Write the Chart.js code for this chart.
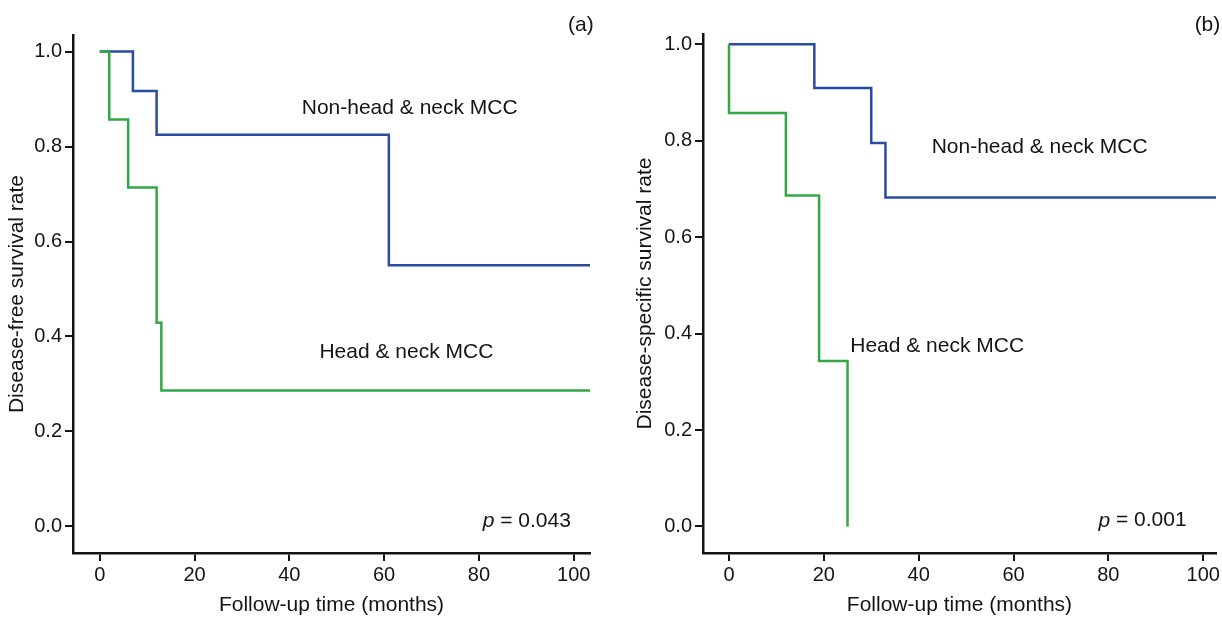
<!DOCTYPE html>
<html>
<head>
<meta charset="utf-8">
<title>Kaplan-Meier survival, head & neck vs non-head & neck MCC</title>
<script src="https://cdn.jsdelivr.net/npm/chart.js@4.4.1/dist/chart.umd.min.js"></script>
<style>
    html, body { margin: 0; padding: 0; background: #fff; }
    #wrap { position: relative; width: 1222px; height: 619px; }
    canvas { position: absolute; top: 0; }
    #panelA { left: 0; }
    #panelB { left: 610px; }
</style>
</head>
<body>
<div id="wrap">
    <canvas id="panelA" width="610" height="619"></canvas>
    <canvas id="panelB" width="612" height="619"></canvas>
</div>
<script>
// Tick values shared by both panels
const xTicks = [0, 20, 40, 60, 80, 100];
const yTicks = [0, 0.2, 0.4, 0.6, 0.8, 1.0];

// Panel (a): disease-free survival (event times in months, survival after event)
const dfsNonHnTime = [0, 7, 12, 61, 104];
const dfsNonHnRate = [1.0, 0.917, 0.825, 0.550, 0.550];
const dfsHnTime = [0, 2, 6, 12, 13, 104];
const dfsHnRate = [1.0, 0.857, 0.714, 0.429, 0.286, 0.286];

// Panel (b): disease-specific survival
const dssNonHnTime = [0, 18, 30, 33, 104];
const dssNonHnRate = [1.0, 0.909, 0.795, 0.682, 0.682];
const dssHnTime = [0, 0, 12, 19, 25];
const dssHnRate = [1.0, 0.857, 0.686, 0.343, 0.0];

const FONT = '"Liberation Sans", Arial, Helvetica, sans-serif';
const INK = '#141414';
const BLUE = '#2b4c9e';
const GREEN = '#33a646';

// Turn time/rate arrays into {x, y} points
function toPoints(times, rates) {
    return times.map((t, i) => ({ x: t, y: rates[i] }));
}

// Text labels drawn at data coordinates
const annotationPlugin = {
    id: 'kmLabels',
    afterDraw(chart, args, opts) {
        const { ctx } = chart;
        const xs = chart.scales.x;
        const ys = chart.scales.y;
        ctx.save();
        ctx.fillStyle = INK;
        ctx.textBaseline = 'middle';
        (opts.items || []).forEach(item => {
            const px = xs.getPixelForValue(item.x);
            const py = ys.getPixelForValue(item.y);
            ctx.font = '21px ' + FONT;
            if (item.pValue) {
                // italic p followed by " = value", right aligned
                const rest = ' = ' + item.pValue;
                ctx.textAlign = 'right';
                ctx.fillText(rest, px, py);
                const w = ctx.measureText(rest).width;
                ctx.font = 'italic 21px ' + FONT;
                ctx.fillText('p', px - w, py);
            } else {
                ctx.textAlign = item.align || 'center';
                ctx.fillText(item.text, px, py);
            }
        });
        ctx.restore();
    }
};

function makePanel(canvasId, cfg) {
    const ctx = document.getElementById(canvasId).getContext('2d');
    return new Chart(ctx, {
        type: 'line',
        data: {
            datasets: [
                {
                    label: 'Non-head & neck MCC',
                    data: toPoints(cfg.blueTime, cfg.blueRate),
                    borderColor: BLUE,
                    borderWidth: 2.5,
                    stepped: 'before',
                    pointRadius: 0,
                    fill: false,
                    order: 2
                },
                {
                    label: 'Head & neck MCC',
                    data: toPoints(cfg.greenTime, cfg.greenRate),
                    borderColor: GREEN,
                    borderWidth: 2.5,
                    stepped: 'before',
                    pointRadius: 0,
                    fill: false,
                    order: 1
                }
            ]
        },
        options: {
            responsive: false,
            animation: false,
            events: [],
            layout: { padding: cfg.padding },
            plugins: {
                legend: { display: false },
                tooltip: { enabled: false },
                kmLabels: { items: cfg.labels }
            },
            scales: {
                x: {
                    type: 'linear',
                    min: cfg.xMin,
                    max: cfg.xMax,
                    afterBuildTicks: s => { s.ticks = xTicks.map(v => ({ value: v })); },
                    afterFit: s => { s.height = 66; },
                    grid: { drawOnChartArea: false, drawTicks: true, tickLength: 8, color: INK, lineWidth: 2 },
                    border: { display: true, color: INK, width: 2.5 },
                    ticks: {
                        color: INK,
                        padding: 2,
                        autoSkip: false,
                        maxRotation: 0,
                        font: { family: FONT, size: 20 },
                        callback: v => String(v)
                    },
                    title: {
                        display: true,
                        text: 'Follow-up time (months)',
                        color: INK,
                        font: { family: FONT, size: 21 },
                        padding: { top: 4, bottom: 1 }
                    }
                },
                y: {
                    type: 'linear',
                    min: cfg.yMin,
                    max: cfg.yMax,
                    afterBuildTicks: s => { s.ticks = yTicks.map(v => ({ value: v })); },
                    afterFit: s => { s.width = cfg.yAxisWidth; },
                    grid: { drawOnChartArea: false, drawTicks: true, tickLength: 8, color: INK, lineWidth: 2 },
                    border: { display: true, color: INK, width: 2.5 },
                    ticks: {
                        color: INK,
                        padding: 3,
                        autoSkip: false,
                        font: { family: FONT, size: 20 },
                        callback: v => Number(v).toFixed(1)
                    },
                    title: {
                        display: true,
                        text: cfg.yTitle,
                        color: INK,
                        font: { family: FONT, size: 21 },
                        padding: { top: 5, bottom: 4 }
                    }
                }
            }
        },
        plugins: [annotationPlugin]
    });
}

makePanel('panelA', {
    blueTime: dfsNonHnTime, blueRate: dfsNonHnRate,
    greenTime: dfsHnTime, greenRate: dfsHnRate,
    xMin: -5.64, xMax: 103.44,
    yMin: -0.056, yMax: 1.035,
    yAxisWidth: 73,
    padding: { left: 0, right: 20, top: 35, bottom: 0 },
    yTitle: 'Disease-free survival rate',
    labels: [
        { text: 'Non-head & neck MCC', x: 65.4, y: 0.881 },
        { text: 'Head & neck MCC', x: 64.7, y: 0.366 },
        { pValue: '0.043', x: 99.4, y: 0.011 },
        { text: '(a)', x: 101.5, y: 1.056 }
    ]
});

makePanel('panelB', {
    blueTime: dssNonHnTime, blueRate: dssNonHnRate,
    greenTime: dssHnTime, greenRate: dssHnRate,
    xMin: -5.48, xMax: 102.68,
    yMin: -0.055, yMax: 1.021,
    yAxisWidth: 75,
    padding: { left: 18, right: 5, top: 34, bottom: 0 },
    yTitle: 'Disease-specific survival rate',
    labels: [
        { text: 'Non-head & neck MCC', x: 65.5, y: 0.786 },
        { text: 'Head & neck MCC', x: 43.9, y: 0.373 },
        { pValue: '0.001', x: 96.5, y: 0.012 },
        { text: '(b)', x: 100.9, y: 1.04 }
    ]
});
</script>
</body>
</html>
